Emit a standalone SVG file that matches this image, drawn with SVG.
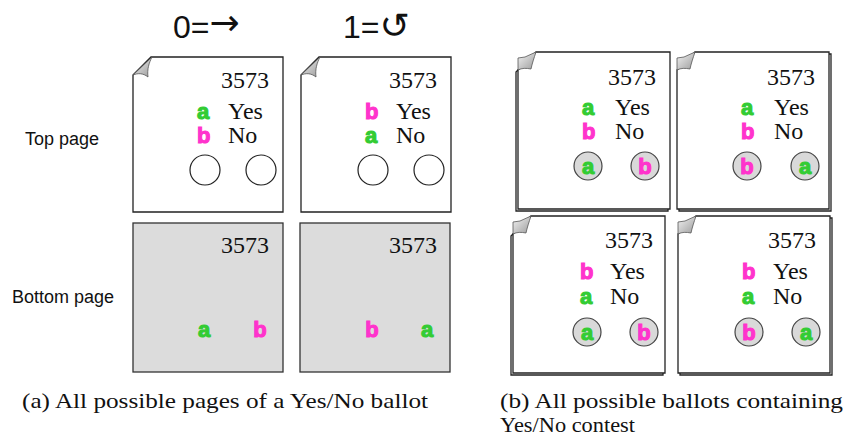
<svg xmlns="http://www.w3.org/2000/svg" width="845" height="441" viewBox="0 0 845 441">
<style>
.pg{fill:#fff;stroke:#222;stroke-width:1.3}
.bk{fill:#fff;stroke:#222;stroke-width:1.3}
.gray{fill:#dcdcdc;stroke:#333;stroke-width:1.3}
.fold{fill:url(#fg);stroke:#555;stroke-width:0.8}
.num{font-family:"Liberation Serif",serif;font-size:24px;fill:#111}
.opt{font-family:"Liberation Serif",serif;font-size:24px;fill:#111}
.ga{font-family:"Liberation Sans",Arial,sans-serif;font-weight:bold;font-size:22px;fill:#33cc33;stroke:#33cc33;stroke-width:1.1}
.mb{font-family:"Liberation Sans",Arial,sans-serif;font-weight:bold;font-size:22px;fill:#ff33cc;stroke:#ff33cc;stroke-width:1.1}
.oc{fill:#fff;stroke:#222;stroke-width:1.2}
.fc{fill:#d9d9d9;stroke:#444;stroke-width:1.2}
.lab{font-family:"Liberation Sans",Arial,sans-serif;font-size:18px;fill:#111}
.ttl{font-family:"Liberation Sans","DejaVu Sans",sans-serif;font-size:32px;fill:#111}
.sym{font-family:"DejaVu Sans",sans-serif;font-size:36px}
.cap{font-family:"Liberation Serif",serif;font-size:21px;fill:#111}
</style>
<defs>
<linearGradient id="fg" x1="0" y1="0" x2="1" y2="1">
<stop offset="0" stop-color="#f4f4f4"/>
<stop offset="1" stop-color="#9a9a9a"/>
</linearGradient>
<path id="page" d="M0,18 L18,0 H150 V155 H0 Z"/>
<path id="curl" d="M0,18 L19,0 C16,6 14,12 15,20 C10,16 5,16 0,18 Z"/>
<path id="bpage" d="M0,18 L18,0 H152 V157 H0 Z"/>
<path id="bcurl" d="M0,18 L0,6 L7,5 L18,0 C16,6 14,12 13,17 C8,16 4,16 0,18 Z"/>
</defs>

<text class="ttl" x="173" y="38">0=<tspan class="sym" dy="-3">→</tspan></text>
<text class="ttl" x="343" y="38">1=<tspan class="sym">↺</tspan></text>
<text class="lab" x="25" y="145">Top page</text>
<text class="lab" x="12" y="303">Bottom page</text>

<g id="top-page-0" transform="translate(133,57)">
<use href="#page" class="pg"/>
<use href="#curl" class="fold"/>
<text class="num" x="136" y="31" text-anchor="end">3573</text>
<text class="ga" x="64" y="62">a</text><text class="opt" x="95" y="62">Yes</text>
<text class="mb" x="64" y="86">b</text><text class="opt" x="95" y="86">No</text>
<circle class="oc" cx="72" cy="113" r="15"/>
<circle class="oc" cx="128" cy="113" r="15"/>
</g>

<g id="top-page-1" transform="translate(301,57)">
<use href="#page" class="pg"/>
<use href="#curl" class="fold"/>
<text class="num" x="136" y="31" text-anchor="end">3573</text>
<text class="mb" x="64" y="62">b</text><text class="opt" x="95" y="62">Yes</text>
<text class="ga" x="64" y="86">a</text><text class="opt" x="95" y="86">No</text>
<circle class="oc" cx="72" cy="113" r="15"/>
<circle class="oc" cx="128" cy="113" r="15"/>
</g>

<g id="bottom-page-0" transform="translate(133,223)">
<rect class="gray" x="0" y="0" width="150" height="149"/>
<text class="num" x="136" y="30" text-anchor="end">3573</text>
<text class="ga" x="71" y="114" text-anchor="middle">a</text>
<text class="mb" x="127" y="114" text-anchor="middle">b</text>
</g>

<g id="bottom-page-1" transform="translate(300,223)">
<rect class="gray" x="0" y="0" width="150" height="149"/>
<text class="num" x="137" y="30" text-anchor="end">3573</text>
<text class="mb" x="72" y="114" text-anchor="middle">b</text>
<text class="ga" x="127" y="114" text-anchor="middle">a</text>
</g>

<g id="ballot-1" transform="translate(518,52)">
<use href="#bpage" class="bk" transform="translate(-2,2)"/>
<use href="#bpage" class="pg"/>
<use href="#bcurl" class="fold"/>
<text class="num" x="138" y="33" text-anchor="end">3573</text>
<text class="ga" x="64" y="63">a</text><text class="opt" x="97" y="63">Yes</text>
<text class="mb" x="64" y="87">b</text><text class="opt" x="97" y="87">No</text>
<circle class="fc" cx="70" cy="114" r="14"/>
<text class="ga" x="70" y="122" text-anchor="middle">a</text>
<circle class="fc" cx="127" cy="114" r="14"/>
<text class="mb" x="127" y="122" text-anchor="middle">b</text>
</g>

<g id="ballot-2" transform="translate(677,52)">
<use href="#bpage" class="bk" transform="translate(2,2)"/>
<use href="#bpage" class="pg"/>
<use href="#bcurl" class="fold"/>
<text class="num" x="138" y="33" text-anchor="end">3573</text>
<text class="ga" x="64" y="63">a</text><text class="opt" x="97" y="63">Yes</text>
<text class="mb" x="64" y="87">b</text><text class="opt" x="97" y="87">No</text>
<circle class="fc" cx="70" cy="114" r="14"/>
<text class="mb" x="70" y="122" text-anchor="middle">b</text>
<circle class="fc" cx="128" cy="114" r="14"/>
<text class="ga" x="128" y="122" text-anchor="middle">a</text>
</g>

<g id="ballot-3" transform="translate(513,216)">
<use href="#bpage" class="bk" transform="translate(-2,2)"/>
<use href="#bpage" class="pg"/>
<use href="#bcurl" class="fold"/>
<text class="num" x="140" y="32" text-anchor="end">3573</text>
<text class="mb" x="67" y="63">b</text><text class="opt" x="97" y="63">Yes</text>
<text class="ga" x="67" y="88">a</text><text class="opt" x="97" y="88">No</text>
<circle class="fc" cx="74" cy="116" r="14"/>
<text class="ga" x="74" y="124" text-anchor="middle">a</text>
<circle class="fc" cx="131" cy="116" r="14"/>
<text class="mb" x="131" y="124" text-anchor="middle">b</text>
</g>

<g id="ballot-4" transform="translate(678,216)">
<use href="#bpage" class="bk" transform="translate(2,2)"/>
<use href="#bpage" class="pg"/>
<use href="#bcurl" class="fold"/>
<text class="num" x="138" y="32" text-anchor="end">3573</text>
<text class="mb" x="64" y="63">b</text><text class="opt" x="95" y="63">Yes</text>
<text class="ga" x="64" y="88">a</text><text class="opt" x="95" y="88">No</text>
<circle class="fc" cx="71" cy="116" r="14"/>
<text class="mb" x="71" y="124" text-anchor="middle">b</text>
<circle class="fc" cx="128" cy="116" r="14"/>
<text class="ga" x="128" y="124" text-anchor="middle">a</text>
</g>

<text class="cap" x="22" y="408" textLength="406" lengthAdjust="spacingAndGlyphs">(a) All possible pages of a Yes/No ballot</text>
<text class="cap" x="500" y="408" textLength="343" lengthAdjust="spacingAndGlyphs">(b) All possible ballots containing</text>
<text class="cap" x="500" y="432" textLength="135" lengthAdjust="spacingAndGlyphs">Yes/No contest</text>
</svg>
